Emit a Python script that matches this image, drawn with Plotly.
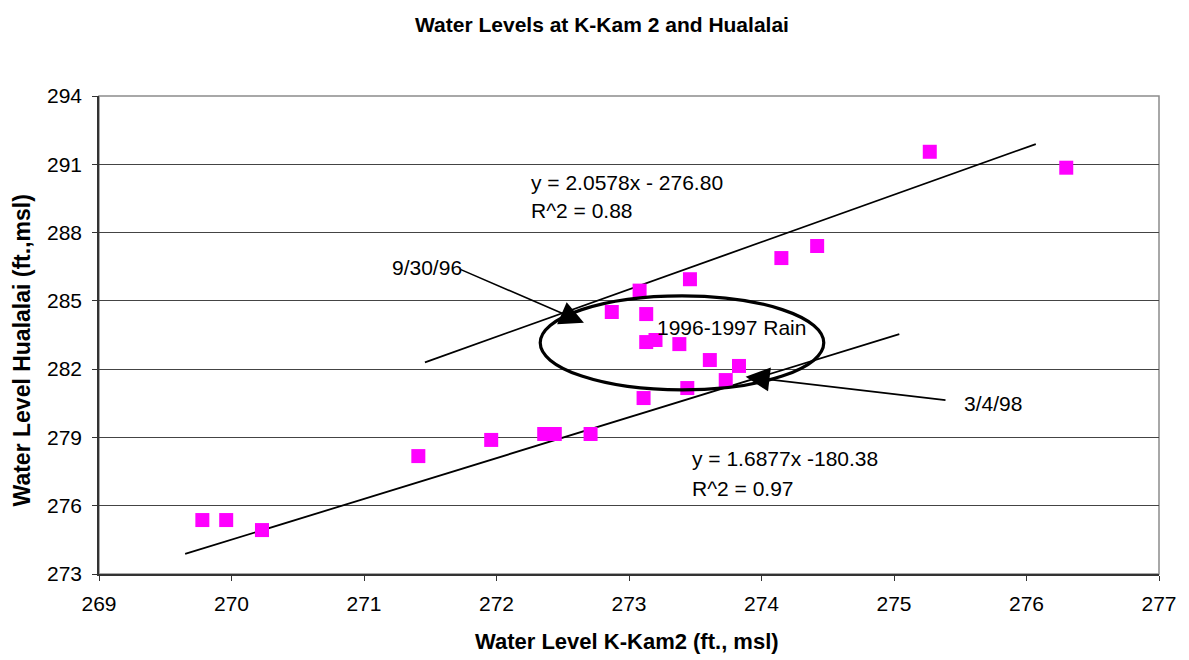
import plotly.graph_objects as go

# K-Kam 2 vs Hualalai water levels (ft, msl)
kkam2 = [269.78, 269.96, 270.23, 271.41, 271.96, 272.36, 272.44, 272.71,
         273.11, 273.44, 273.73, 273.83, 273.61, 273.13, 273.20, 273.38,
         272.87, 273.13, 273.08, 273.46, 274.15, 274.42, 275.27, 276.30]
hualalai = [275.37, 275.37, 274.93, 278.18, 278.89, 279.15, 279.15, 279.15,
            280.73, 281.17, 281.52, 282.14, 282.40, 283.19, 283.28, 283.10,
            284.51, 284.42, 285.45, 285.95, 286.88, 287.41, 291.55, 290.85]

# trend line end points
upper_fit_x = [271.46, 276.07]
upper_fit_y = [282.30, 291.89]
lower_fit_x = [269.65, 275.04]
lower_fit_y = [273.88, 283.54]

font = "Liberation Sans, Arial, sans-serif"

fig = go.Figure()
fig.add_trace(go.Scatter(x=upper_fit_x, y=upper_fit_y, mode="lines",
                         line=dict(color="black", width=1.8), showlegend=False))
fig.add_trace(go.Scatter(x=lower_fit_x, y=lower_fit_y, mode="lines",
                         line=dict(color="black", width=1.8), showlegend=False))
fig.add_trace(go.Scatter(x=kkam2, y=hualalai, mode="markers",
                         marker=dict(symbol="square", size=14, color="#FF00FF"),
                         showlegend=False))

# rain ellipse
fig.add_shape(type="circle", xref="x", yref="y",
              x0=272.33, x1=274.47, y0=281.09, y1=285.22,
              line=dict(color="black", width=3.2))

# arrows
fig.add_annotation(x=272.66, y=284.04, ax=271.72, ay=286.40,
                   axref="x", ayref="y", text="", showarrow=True,
                   arrowhead=2, arrowsize=3, arrowwidth=1.6, arrowcolor="black")
fig.add_annotation(x=273.88, y=281.67, ax=275.40, ay=280.63,
                   axref="x", ayref="y", text="", showarrow=True,
                   arrowhead=2, arrowsize=3, arrowwidth=1.6, arrowcolor="black")

labels = [
    ("y = 2.0578x - 276.80", 531, 182),
    ("R^2 = 0.88", 531, 210),
    ("9/30/96", 392, 267),
    ("1996-1997 Rain", 658, 327),
    ("3/4/98", 967, 403),
    ("y = 1.6877x -180.38", 693, 458),
    ("R^2 = 0.97", 693, 488),
]
for txt, px, py in labels:
    fig.add_annotation(x=(px - 99) / 1066, y=(574 - py) / 478,
                       xref="paper", yref="paper", text=txt, showarrow=False,
                       xanchor="left", yanchor="middle",
                       font=dict(family=font, size=21, color="black"))

# axis titles placed by hand
fig.add_annotation(x=(630 - 99) / 1066, y=(574 - 641) / 478,
                   xref="paper", yref="paper",
                   text="<b>Water Level K-Kam2 (ft., msl)</b>", showarrow=False,
                   xanchor="center", yanchor="middle",
                   font=dict(family=font, size=22, color="black"))
fig.add_annotation(x=(22 - 99) / 1066, y=(574 - 350) / 478,
                   xref="paper", yref="paper", textangle=-90,
                   text="<b>Water Level Hualalai (ft.,msl)</b>", showarrow=False,
                   xanchor="center", yanchor="middle",
                   font=dict(family=font, size=23, color="black"))

# page body adds an 8px offset, so the figure is 8px smaller with trimmed margins
fig.update_layout(
    width=1181, height=652,
    margin=dict(l=91, r=24, t=88, b=86),
    paper_bgcolor="white", plot_bgcolor="white",
    font=dict(family=font, size=21, color="black"),
    title=dict(text="<b>Water Levels at K-Kam 2 and Hualalai</b>",
               x=(602 - 8) / 1181, xanchor="center",
               y=1 - (25 - 8) / 652, yanchor="middle",
               font=dict(size=21)),
    shapes=list(fig.layout.shapes) + [
        dict(type="rect", xref="paper", yref="paper", x0=0, x1=1, y0=0, y1=1,
             line=dict(color="#8c8c8c", width=1.5), layer="below")
    ],
)
fig.update_xaxes(range=[269, 277], dtick=1, tick0=269, showgrid=False,
                 showline=True, linecolor="#333", linewidth=1.5,
                 ticks="outside", ticklen=5, tickcolor="#333", zeroline=False,
                 ticklabelstandoff=5)
fig.update_yaxes(range=[273, 294], dtick=3, tick0=273, showgrid=True,
                 gridcolor="#444", gridwidth=1,
                 showline=True, linecolor="#333", linewidth=1.5,
                 ticks="outside", ticklen=5, tickcolor="#333", zeroline=False,
                 ticklabelstandoff=6)

fig.write_html("out.html")
